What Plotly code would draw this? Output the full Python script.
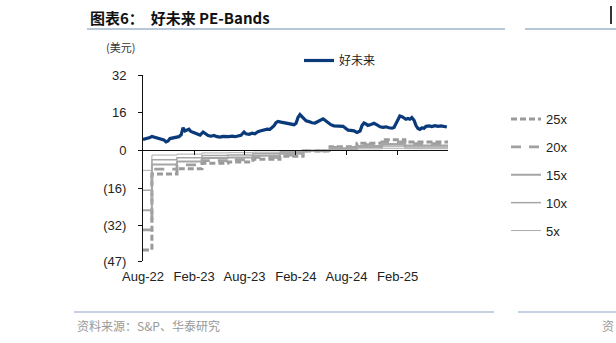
import plotly.graph_objects as go

# ---------------- data ----------------
price_dates = [
    "2022-08-01", "2022-08-12", "2022-08-23", "2022-09-02", "2022-09-13", "2022-09-24",
    "2022-10-05", "2022-10-15", "2022-10-23", "2022-10-30", "2022-11-06", "2022-11-17",
    "2022-11-28", "2022-12-08", "2022-12-16", "2022-12-23", "2022-12-30", "2023-01-06",
    "2023-01-13", "2023-01-20", "2023-01-31", "2023-02-11", "2023-02-22", "2023-03-05",
    "2023-03-12", "2023-03-23", "2023-04-02", "2023-04-13", "2023-04-24", "2023-05-05",
    "2023-05-15", "2023-05-26", "2023-06-06", "2023-06-17", "2023-06-28", "2023-07-08",
    "2023-07-19", "2023-07-30", "2023-08-06", "2023-08-17", "2023-08-28", "2023-09-07",
    "2023-09-18", "2023-09-29", "2023-10-10", "2023-10-21", "2023-10-31", "2023-11-07",
    "2023-11-15", "2023-11-22", "2023-11-29", "2023-12-10", "2023-12-21", "2023-12-31",
    "2024-01-11", "2024-01-18", "2024-01-26", "2024-02-02", "2024-02-09", "2024-02-16",
    "2024-02-23", "2024-03-01", "2024-03-09", "2024-03-19", "2024-03-30", "2024-04-10",
    "2024-04-21", "2024-05-02", "2024-05-09", "2024-05-16", "2024-05-27", "2024-06-06",
    "2024-06-17", "2024-06-28", "2024-07-09", "2024-07-20", "2024-07-30", "2024-08-07",
    "2024-08-17", "2024-08-28", "2024-09-08", "2024-09-19", "2024-09-26", "2024-10-03",
    "2024-10-10", "2024-10-17", "2024-10-28", "2024-11-08", "2024-11-19", "2024-11-30",
    "2024-12-10", "2024-12-21", "2025-01-01", "2025-01-12", "2025-01-19", "2025-01-26",
    "2025-02-02", "2025-02-09", "2025-02-17", "2025-02-24", "2025-03-03", "2025-03-10",
    "2025-03-17", "2025-03-24", "2025-04-01", "2025-04-08", "2025-04-15", "2025-04-22",
    "2025-04-29", "2025-05-07", "2025-05-14", "2025-05-25", "2025-06-04", "2025-06-15",
    "2025-06-26", "2025-07-07", "2025-07-17", "2025-07-28",
]
price_values = [
    4.6, 4.9, 5.3, 5.9, 5.6, 5.3,
    4.9, 4.4, 3.6, 4.0, 5.0, 5.3,
    5.5, 5.8, 6.6, 9.6, 8.2, 8.6,
    9.0, 8.0, 7.6, 6.9, 6.5, 7.8,
    7.2, 6.3, 6.0, 6.3, 5.8, 5.6,
    5.9, 5.7, 5.8, 6.0, 5.8, 6.1,
    6.4, 7.8, 7.0, 6.8, 7.3, 7.0,
    7.9, 8.3, 8.6, 9.0, 8.9, 9.6,
    10.5, 11.8, 12.3, 12.0, 11.8, 11.5,
    11.3, 11.0, 10.9, 11.5, 14.0, 15.2,
    14.3, 13.5, 12.5, 12.2, 11.7, 11.6,
    12.3, 12.9, 13.4, 12.8, 11.6, 10.9,
    10.4, 10.3, 10.1, 10.2, 9.3, 8.6,
    8.5, 8.3, 7.6, 8.2, 10.5, 11.6,
    11.2, 10.6, 11.0, 11.5, 10.8, 10.0,
    9.8, 10.0, 9.6, 9.4, 9.7, 11.5,
    13.0, 14.6, 14.3, 13.8, 13.2, 13.5,
    13.2, 13.9, 12.8, 10.5, 9.3, 8.9,
    9.5, 9.4, 10.2, 10.4, 10.1, 10.5,
    10.2, 10.4, 10.0, 9.9,
]

band_dates = [
    "2022-08-01", "2022-09-02", "2022-12-01", "2023-03-01", "2023-06-02", "2023-08-31",
    "2023-12-06", "2024-02-27", "2024-06-03", "2024-09-08", "2024-12-07", "2025-02-27",
    "2025-08-01",
]
band_25x = [-42.3, -10.0, -7.8, -5.5, -5.0, -3.8, -2.5, -0.3, 1.5, 3.0, 4.5, 3.5, 3.5]
band_20x = [-33.8, -8.0, -6.2, -4.4, -4.0, -3.0, -2.0, -0.2, 1.2, 2.4, 3.6, 2.8, 2.8]
band_15x = [-25.4, -6.0, -4.7, -3.3, -3.0, -2.3, -1.5, -0.2, 0.9, 1.8, 2.7, 2.1, 2.1]
band_10x = [-16.9, -4.0, -3.1, -2.2, -2.0, -1.5, -1.0, -0.1, 0.6, 1.2, 1.8, 1.4, 1.4]
band_5x = [-8.5, -2.0, -1.6, -1.1, -1.0, -0.8, -0.5, -0.1, 0.3, 0.6, 0.9, 0.7, 0.7]

y_tickvals = [32, 16, 0, -16, -32, -47]
y_ticktext = ["32", "16", "0", "(16)", "(32)", "(47)"]
x_tickvals = ["2022-08-01", "2023-02-01", "2023-08-01", "2024-02-01", "2024-08-01", "2025-02-01"]
x_ticktext = ["Aug-22", "Feb-23", "Aug-23", "Feb-24", "Aug-24", "Feb-25"]

# ---------------- layout geometry ----------------
W, H = 616, 343
L, R, T, B = 143, 448, 75, 261
YMIN, YMAX = -47, 32


def px(x):
    return (x - L) / (R - L)


def py(y):
    return (B - y) / (B - T)


FONT = "Liberation Sans, Arial, sans-serif"
CJK = "Noto Sans CJK SC, sans-serif"

fig = go.Figure()

fig.add_trace(go.Scatter(
    x=price_dates, y=price_values, mode="lines", name="好未来",
    line=dict(color="#0b3a7a", width=3.2), legend="legend",
))

bands = [
    ("25x", band_25x, dict(color="#9a9a9a", width=3, dash="6px,3px")),
    ("20x", band_20x, dict(color="#a0a0a0", width=2.8, dash="10px,8px")),
    ("15x", band_15x, dict(color="#a6a6a6", width=2.0)),
    ("10x", band_10x, dict(color="#a6a6a6", width=1.5)),
    ("5x", band_5x, dict(color="#acacac", width=1.0)),
]
for name, vals, ln in bands:
    fig.add_trace(go.Scatter(
        x=band_dates, y=vals, mode="lines", name=name, line=ln,
        line_shape="hv", xaxis="x2", legend="legend2", legendgroup=name,
    ))

zero_pos = (0 - YMIN) / (YMAX - YMIN)

fig.update_layout(
    width=W, height=H,
    margin=dict(l=L, r=W - R, t=T, b=H - B, autoexpand=False),
    paper_bgcolor="white", plot_bgcolor="white",
    font=dict(family=FONT, size=13, color="#222"),
    showlegend=True,
    xaxis=dict(
        type="date", range=["2022-08-01", "2025-08-01"],
        tickvals=x_tickvals, ticktext=x_ticktext,
        showline=False, showgrid=False, zeroline=False, ticks="",
        ticklabelstandoff=6,
        tickfont=dict(size=13, color="#222", family=FONT),
    ),
    xaxis2=dict(
        type="date", range=["2022-08-01", "2025-08-01"], overlaying="x",
        anchor="free", position=zero_pos,
        tickvals=x_tickvals[1:], showticklabels=False,
        showline=True, linecolor="#111", linewidth=1,
        ticks="outside", ticklen=4, tickcolor="#111",
        showgrid=False, zeroline=False,
    ),
    yaxis=dict(
        range=[YMIN, YMAX], tickvals=y_tickvals, ticktext=y_ticktext,
        showline=True, linecolor="#111", linewidth=1,
        ticks="outside", ticklen=4, tickcolor="#111",
        showgrid=False, zeroline=False, ticklabelstandoff=9,
        tickfont=dict(size=13, color="#222", family=FONT),
    ),
    legend=dict(
        x=px(299), y=py(46), xanchor="left", yanchor="top",
        orientation="h", bgcolor="rgba(0,0,0,0)",
        font=dict(family=CJK, size=12, color="#222"),
    ),
    legend2=dict(
        x=px(506), y=py(104), xanchor="left", yanchor="top",
        orientation="v", bgcolor="rgba(0,0,0,0)", tracegroupgap=8,
        font=dict(family=FONT, size=13, color="#222"),
    ),
)

# title and decorations
fig.add_annotation(
    x=px(88), y=py(17), xref="paper", yref="paper", xanchor="left", yanchor="middle",
    text="<b>图表6：  好未来 PE-Bands</b>", showarrow=False,
    font=dict(family=CJK, size=15, color="#111"),
)
fig.add_annotation(
    x=px(104), y=py(47), xref="paper", yref="paper", xanchor="left", yanchor="middle",
    text="(美元)", showarrow=False,
    font=dict(family=CJK, size=11, color="#333"),
)
fig.add_annotation(
    x=px(75), y=py(325), xref="paper", yref="paper", xanchor="left", yanchor="middle",
    text="资料来源：S&P、华泰研究", showarrow=False,
    font=dict(family=CJK, size=12, color="#999"),
)
fig.add_annotation(
    x=px(600), y=py(325), xref="paper", yref="paper", xanchor="left", yanchor="middle",
    text="资", showarrow=False,
    font=dict(family=CJK, size=12, color="#999"),
)
fig.add_shape(type="line", xref="paper", yref="paper",
              x0=px(87), x1=px(505), y0=py(29), y1=py(29),
              line=dict(color="#9fb3cc", width=1.5))
fig.add_shape(type="line", xref="paper", yref="paper",
              x0=px(525), x1=px(616), y0=py(29), y1=py(29),
              line=dict(color="#9fb3cc", width=1.5))
fig.add_shape(type="line", xref="paper", yref="paper",
              x0=px(611), x1=px(611), y0=py(6), y1=py(24),
              line=dict(color="#333", width=2))
fig.add_shape(type="line", xref="paper", yref="paper",
              x0=px(74), x1=px(494), y0=py(312), y1=py(312),
              line=dict(color="#c6d2e2", width=2))
fig.add_shape(type="line", xref="paper", yref="paper",
              x0=px(518), x1=px(616), y0=py(312), y1=py(312),
              line=dict(color="#c6d2e2", width=2))

fig.write_html("out.html")
